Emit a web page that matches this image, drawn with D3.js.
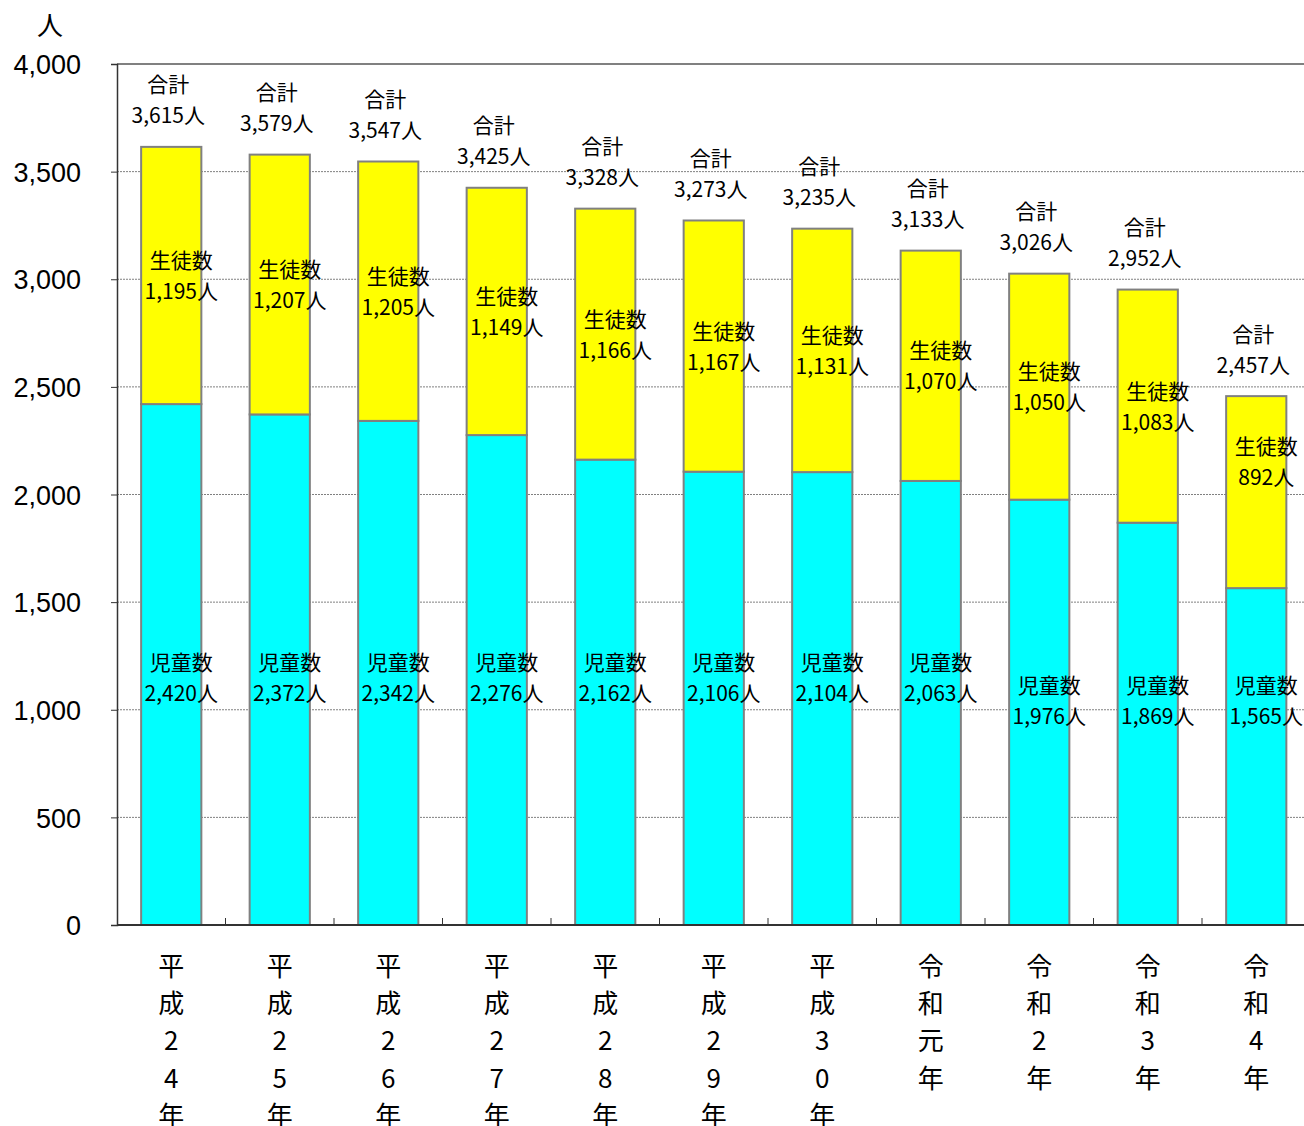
<!DOCTYPE html>
<html><head><meta charset="utf-8">
<script src="https://cdn.jsdelivr.net/npm/d3@7"></script>
<style>body{margin:0;background:#fff}svg{display:block}</style>
</head><body>
<svg id="c" width="1304" height="1126"></svg>
<script>
const categories = ["平成24年","平成25年","平成26年","平成27年","平成28年","平成29年","平成30年","令和元年","令和2年","令和3年","令和4年"];
const jidou = [2420,2372,2342,2276,2162,2106,2104,2063,1976,1869,1565];
const seito = [1195,1207,1205,1149,1166,1167,1131,1070,1050,1083,892];
const totals = [3615,3579,3547,3425,3328,3273,3235,3133,3026,2952,2457];
const yTicks = [0,500,1000,1500,2000,2500,3000,3500,4000];

const svg = d3.select("#c");
const L = 117, T = 64, B = 925, R = 1310.5;
const jp = "'Noto Sans CJK JP','Noto Sans',sans-serif";
const num = "'Liberation Sans',Arial,sans-serif";
const x = d3.scaleBand().domain(categories).range([L, R]).paddingInner(0.445).paddingOuter(0.2225);
const y = d3.scaleLinear().domain([0, 4000]).range([B, T]);
const fmt = d3.format(",");

// gridlines
svg.append("g").selectAll("line").data(yTicks.filter(v => v > 0 && v < 4000)).join("line")
  .attr("x1", L).attr("x2", 1304).attr("y1", d => y(d)).attr("y2", d => y(d))
  .attr("stroke", "#808080").attr("stroke-width", 1).attr("stroke-dasharray", "2,1");
// top border
svg.append("line").attr("x1", L).attr("x2", 1304).attr("y1", T).attr("y2", T).attr("stroke", "#808080").attr("stroke-width", 2);

// y axis
const ya = svg.append("g").attr("transform", `translate(${L},0)`)
  .call(d3.axisLeft(y).tickValues(yTicks).tickSize(6).tickFormat(fmt));
ya.select(".domain").attr("stroke", "#333").attr("stroke-width", 1.5);
ya.selectAll(".tick line").attr("stroke", "#333");
ya.selectAll("text").attr("font-family", num).attr("font-size", 27).attr("fill", "#000").attr("x", -36).attr("dy", "0.36em");
svg.append("text").attr("x", 50).attr("y", 35).attr("text-anchor", "middle").attr("font-family", jp).attr("font-size", 26).text("人");

// bars
const data = categories.map((c, i) => ({c, j: jidou[i], s: seito[i], t: totals[i]}));
const bw = x.bandwidth();
svg.append("g").selectAll("rect.j").data(data).join("rect")
  .attr("x", d => x(d.c)).attr("width", bw).attr("y", d => y(d.j)).attr("height", d => y(0) - y(d.j))
  .attr("fill", "#00FFFF").attr("stroke", "#808080").attr("stroke-width", 2);
svg.append("g").selectAll("rect.s").data(data).join("rect")
  .attr("x", d => x(d.c)).attr("width", bw).attr("y", d => y(d.j + d.s)).attr("height", d => y(d.j) - y(d.j + d.s))
  .attr("fill", "#FFFF00").attr("stroke", "#808080").attr("stroke-width", 2);

// x axis
svg.append("line").attr("x1", L).attr("x2", 1304).attr("y1", B).attr("y2", B).attr("stroke", "#333").attr("stroke-width", 2);
const step = x.step();
svg.append("g").selectAll("line").data(categories.slice(1)).join("line")
  .attr("x1", d => x(d) - (step - bw) / 2).attr("x2", d => x(d) - (step - bw) / 2)
  .attr("y1", B).attr("y2", B - 7).attr("stroke", "#333");

// x labels (vertical)
const xl = svg.append("g").selectAll("text").data(categories).join("text")
  .attr("text-anchor", "middle").attr("font-family", jp).attr("font-size", 26).attr("fill", "#000");
xl.each(function(d) {
  const chars = Array.from(d);
  const t = d3.select(this);
  chars.forEach((ch, k) => {
    t.append("tspan").attr("x", x(d) + bw / 2).attr("y", 976 + k * 37.2).text(ch);
  });
});

// labels
const lab = svg.append("g").attr("font-family", jp).attr("font-size", 21).attr("text-anchor", "middle").attr("fill", "#000");
data.forEach(d => {
  const cx = x(d.c) + bw / 2;
  const top = y(d.t);
  lab.append("text").attr("x", cx - 3).attr("y", top - 62).attr("dy", "0.36em").text("合計");
  lab.append("text").attr("x", cx - 3).attr("y", top - 31).attr("dy", "0.36em").text(fmt(d.t) + "人");
  const sm = (y(d.j) + y(d.j + d.s)) / 2;
  const sOff = d.s < 1000 ? -31 : 0;
  lab.append("text").attr("x", cx + 10).attr("y", sm - 15 + sOff).attr("dy", "0.36em").text("生徒数");
  lab.append("text").attr("x", cx + 10).attr("y", sm + 16 + sOff).attr("dy", "0.36em").text(fmt(d.s) + "人");
  const jy = y(d.j >= 2000 ? 1150 : 1045);
  lab.append("text").attr("x", cx + 10).attr("y", jy - 15).attr("dy", "0.36em").text("児童数");
  lab.append("text").attr("x", cx + 10).attr("y", jy + 16).attr("dy", "0.36em").text(fmt(d.j) + "人");
});
</script>
</body></html>
